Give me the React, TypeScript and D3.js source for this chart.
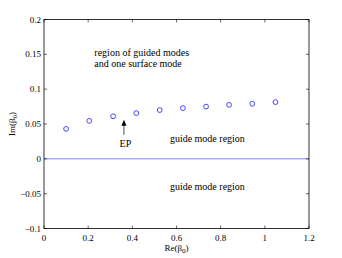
import * as d3 from "d3"

// values
const reBeta = [0.1, 0.205, 0.313, 0.418, 0.524, 0.629, 0.734, 0.838, 0.943, 1.048]
const imBeta = [0.043, 0.0545, 0.061, 0.0656, 0.07, 0.0727, 0.075, 0.0775, 0.079, 0.0814]
const xTicks = [0, 0.2, 0.4, 0.6, 0.8, 1, 1.2]
const yTicks = [-0.1, -0.05, 0, 0.05, 0.1, 0.15, 0.2]
const epPoint = { re: 0.362, im: 0.056 }

const width = 342
const height = 258
const marginLeft = 44
const marginRight = 33
const marginTop = 19.5
const marginBottom = 29.5

export default function App() {
    const x = d3.scaleLinear([0, 1.2], [marginLeft, width - marginRight])
    const y = d3.scaleLinear([-0.1, 0.2], [height - marginBottom, marginTop])
    const font = "Liberation Serif, DejaVu Serif, serif"
    const tickLen = 3

    return (
        <svg width={width} height={height} style={{ position: "absolute", left: 0, top: 0, background: "#fff", fontFamily: font }}>
            <rect x={0} y={0} width={width} height={height} fill="#fff" />

            {/* zero line */}
            <line x1={x(0)} x2={x(1.2)} y1={y(0)} y2={y(0)} stroke="#8080ff" strokeWidth={1} />

            {/* points */}
            {reBeta.map((d, i) => (
                <circle key={i} cx={x(d)} cy={y(imBeta[i])} r={2.4} fill="none" stroke="#3333ff" strokeWidth={0.9} />
            ))}

            {/* box */}
            <rect x={x(0)} y={y(0.2)} width={x(1.2) - x(0)} height={y(-0.1) - y(0.2)} fill="none" stroke="#000" strokeWidth={0.8} />

            {xTicks.map(t => (
                <g key={"x" + t}>
                    <line x1={x(t)} x2={x(t)} y1={y(-0.1)} y2={y(-0.1) - tickLen} stroke="#000" strokeWidth={0.6} />
                    <line x1={x(t)} x2={x(t)} y1={y(0.2)} y2={y(0.2) + tickLen} stroke="#000" strokeWidth={0.6} />
                    <text x={x(t)} y={y(-0.1) + 12} textAnchor="middle" fontSize={9}>{t}</text>
                </g>
            ))}
            {yTicks.map(t => (
                <g key={"y" + t}>
                    <line x1={x(0)} x2={x(0) + tickLen} y1={y(t)} y2={y(t)} stroke="#000" strokeWidth={0.6} />
                    <line x1={x(1.2)} x2={x(1.2) - tickLen} y1={y(t)} y2={y(t)} stroke="#000" strokeWidth={0.6} />
                    <text x={x(0) - 3} y={y(t) + 3} textAnchor="end" fontSize={9}>{t < 0 ? "\u2212" + Math.abs(t) : t}</text>
                </g>
            ))}

            {/* axis labels */}
            <text x={(x(0) + x(1.2)) / 2} y={height - 7} textAnchor="middle" fontSize={9}>
                Re(β<tspan fontSize={7} dy={2}>0</tspan><tspan dy={-2}>)</tspan>
            </text>
            <text transform={`translate(15, ${(y(0.2) + y(-0.1)) / 2}) rotate(-90)`} textAnchor="middle" fontSize={9}>
                Im(β<tspan fontSize={7} dy={2}>0</tspan><tspan dy={-2}>)</tspan>
            </text>

            {/* annotations */}
            <text x={x(0.228)} y={56} fontSize={10}>region of guided modes</text>
            <text x={x(0.228)} y={66.5} fontSize={10}>and one surface mode</text>
            <text x={x(0.57)} y={142} fontSize={10}>guide mode region</text>
            <text x={x(0.57)} y={190} fontSize={10}>guide mode region</text>

            {/* EP arrow */}
            <line x1={x(epPoint.re)} x2={x(epPoint.re)} y1={y(epPoint.im) + 4} y2={y(0.0345)} stroke="#000" strokeWidth={0.7} />
            <path d={`M${x(epPoint.re)},${y(epPoint.im)} l-2.5,6 h5 z`} fill="#000" />
            <text x={x(epPoint.re) + 1.5} y={y(0.0177)} textAnchor="middle" fontSize={10}>EP</text>
        </svg>
    )
}
